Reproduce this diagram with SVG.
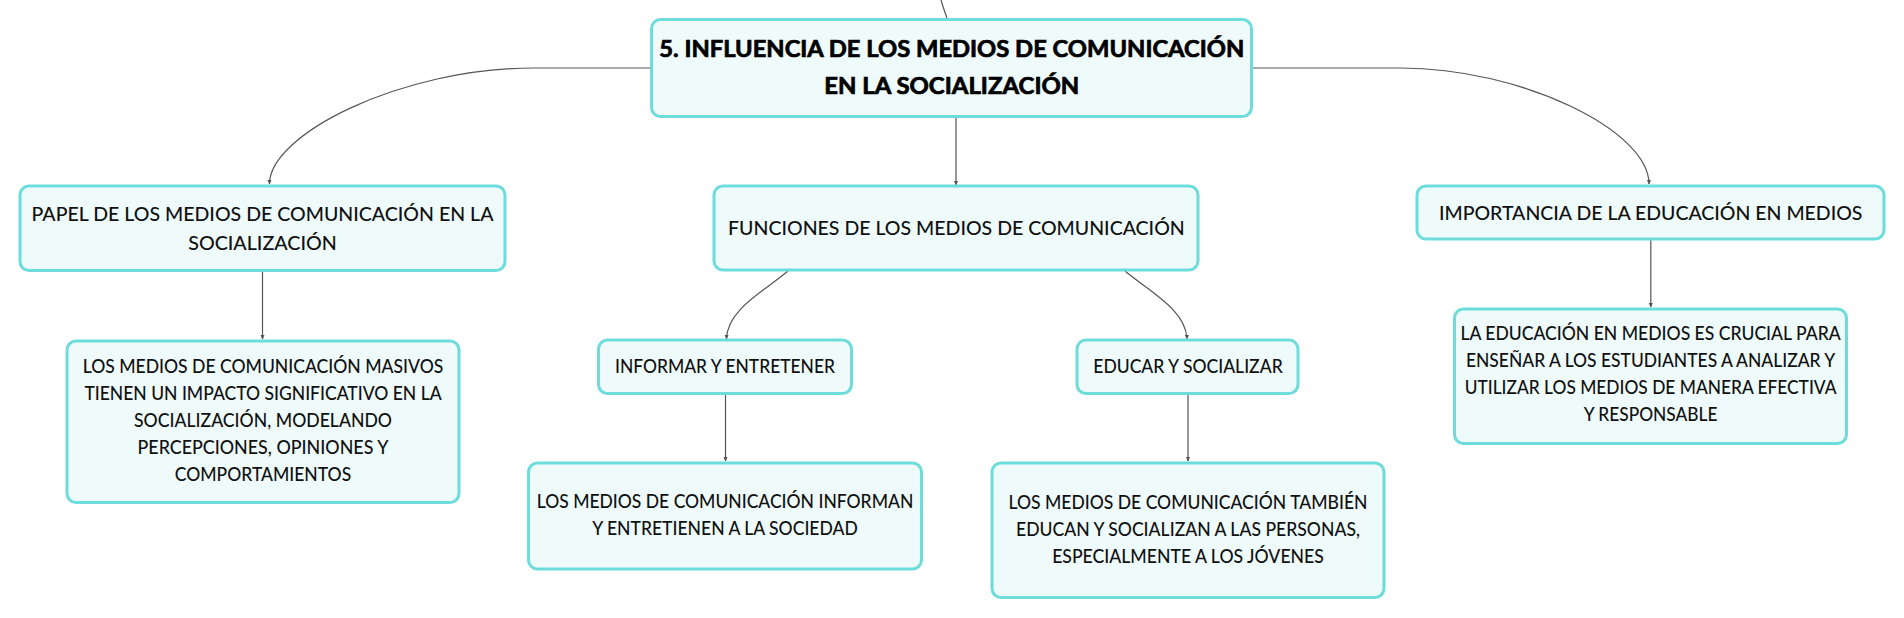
<svg xmlns="http://www.w3.org/2000/svg" width="1904" height="618" viewBox="0 0 1904 618">
<defs>
<marker id="arr" viewBox="0 0 6 6" refX="5" refY="3" markerWidth="5" markerHeight="5" orient="auto" markerUnits="userSpaceOnUse">
<path d="M0,0.5 L6,3 L0,5.5 z" fill="#555"/>
</marker>
</defs>
<style>
.box{fill:#effbfb;stroke:#6fdcdc;stroke-width:3}
.t{font-family:Lato,"Noto Sans",sans-serif;fill:#111;text-anchor:middle;font-weight:500}
.b{font-weight:700;font-size:22px;fill:#000;stroke:#000;stroke-width:0.7}
.l1{font-size:19.5px}
.l2{font-size:18.5px}
.con path{fill:none;stroke:#555;stroke-width:1.2}
</style>
<rect width="1904" height="618" fill="#ffffff"/>
<g class="con" id="connectors">
<path d="M941,0 Q944,10 947,18"/>
<path d="M651,68 L534,68 C400,68 269,135 269.5,184" marker-end="url(#arr)"/>
<path d="M1252,68 L1401,68 C1520,68 1649,130 1649,184" marker-end="url(#arr)"/>
<path d="M956,117 L956,185" marker-end="url(#arr)"/>
<path d="M262.5,271 L262.5,339" marker-end="url(#arr)"/>
<path d="M788,271 C763,292 727,310 726.5,339" marker-end="url(#arr)"/>
<path d="M1125,271 C1150,292 1186,310 1187,339" marker-end="url(#arr)"/>
<path d="M725.5,394 L725.5,461" marker-end="url(#arr)"/>
<path d="M1188,394 L1188,461" marker-end="url(#arr)"/>
<path d="M1650.8,240 L1650.8,307" marker-end="url(#arr)"/>
</g>
<g id="main">
<rect class="box" x="651.5" y="19.5" width="600" height="97" rx="9"/>
<text class="t b" x="951.8" y="57.3" textLength="585" lengthAdjust="spacingAndGlyphs">5. INFLUENCIA DE LOS MEDIOS DE COMUNICACIÓN</text>
<text class="t b" x="951.8" y="94" textLength="255" lengthAdjust="spacingAndGlyphs">EN LA SOCIALIZACIÓN</text>
</g>
<g id="papel">
<rect class="box" x="20" y="186" width="485" height="84.5" rx="9"/>
<text class="t l1" x="262.5" y="220.7" textLength="462" lengthAdjust="spacingAndGlyphs">PAPEL DE LOS MEDIOS DE COMUNICACIÓN EN LA</text>
<text class="t l1" x="262.5" y="250" textLength="148.6" lengthAdjust="spacingAndGlyphs">SOCIALIZACIÓN</text>
</g>
<g id="funciones">
<rect class="box" x="714" y="186" width="484" height="84" rx="9"/>
<text class="t l1" x="956.4" y="235" textLength="456.7" lengthAdjust="spacingAndGlyphs">FUNCIONES DE LOS MEDIOS DE COMUNICACIÓN</text>
</g>
<g id="importancia">
<rect class="box" x="1417" y="186" width="467" height="53" rx="9"/>
<text class="t l1" x="1650.7" y="220" textLength="423.5" lengthAdjust="spacingAndGlyphs">IMPORTANCIA DE LA EDUCACIÓN EN MEDIOS</text>
</g>
<g id="papel-detalle">
<rect class="box" x="67" y="341" width="392" height="161.5" rx="9"/>
<text class="t l2" x="263" y="373.3" textLength="360.7" lengthAdjust="spacingAndGlyphs">LOS MEDIOS DE COMUNICACIÓN MASIVOS</text>
<text class="t l2" x="263" y="400.1" textLength="357.2" lengthAdjust="spacingAndGlyphs">TIENEN UN IMPACTO SIGNIFICATIVO EN LA</text>
<text class="t l2" x="263" y="426.9" textLength="258" lengthAdjust="spacingAndGlyphs">SOCIALIZACIÓN, MODELANDO</text>
<text class="t l2" x="263" y="453.7" textLength="250.9" lengthAdjust="spacingAndGlyphs">PERCEPCIONES, OPINIONES Y</text>
<text class="t l2" x="263" y="480.5" textLength="176.4" lengthAdjust="spacingAndGlyphs">COMPORTAMIENTOS</text>
</g>
<g id="informar">
<rect class="box" x="598.5" y="340" width="253" height="53.5" rx="9"/>
<text class="t l2" x="725" y="373.3" textLength="220" lengthAdjust="spacingAndGlyphs">INFORMAR Y ENTRETENER</text>
</g>
<g id="educar">
<rect class="box" x="1077" y="340" width="221" height="53.5" rx="9"/>
<text class="t l2" x="1188" y="373.3" textLength="189.4" lengthAdjust="spacingAndGlyphs">EDUCAR Y SOCIALIZAR</text>
</g>
<g id="informar-detalle">
<rect class="box" x="528.5" y="463" width="393" height="106" rx="9"/>
<text class="t l2" x="725" y="508.3" textLength="376.6" lengthAdjust="spacingAndGlyphs">LOS MEDIOS DE COMUNICACIÓN INFORMAN</text>
<text class="t l2" x="725" y="535" textLength="265.6" lengthAdjust="spacingAndGlyphs">Y ENTRETIENEN A LA SOCIEDAD</text>
</g>
<g id="educar-detalle">
<rect class="box" x="992" y="463" width="392" height="134.5" rx="9"/>
<text class="t l2" x="1188" y="509.3" textLength="359" lengthAdjust="spacingAndGlyphs">LOS MEDIOS DE COMUNICACIÓN TAMBIÉN</text>
<text class="t l2" x="1188" y="536" textLength="344" lengthAdjust="spacingAndGlyphs">EDUCAN Y SOCIALIZAN A LAS PERSONAS,</text>
<text class="t l2" x="1188" y="562.7" textLength="271.7" lengthAdjust="spacingAndGlyphs">ESPECIALMENTE A LOS JÓVENES</text>
</g>
<g id="importancia-detalle">
<rect class="box" x="1454.5" y="309" width="392" height="134.5" rx="9"/>
<text class="t l2" x="1650.6" y="340" textLength="380.3" lengthAdjust="spacingAndGlyphs">LA EDUCACIÓN EN MEDIOS ES CRUCIAL PARA</text>
<text class="t l2" x="1650.6" y="366.9" textLength="369.3" lengthAdjust="spacingAndGlyphs">ENSEÑAR A LOS ESTUDIANTES A ANALIZAR Y</text>
<text class="t l2" x="1650.6" y="393.8" textLength="371.8" lengthAdjust="spacingAndGlyphs">UTILIZAR LOS MEDIOS DE MANERA EFECTIVA</text>
<text class="t l2" x="1650.6" y="420.7" textLength="133.8" lengthAdjust="spacingAndGlyphs">Y RESPONSABLE</text>
</g>
</svg>
